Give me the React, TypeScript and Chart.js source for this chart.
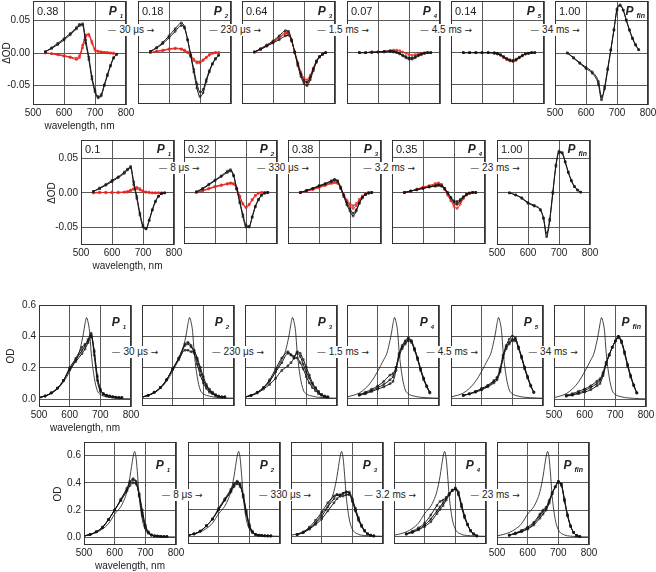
import React, { useEffect, useRef } from 'react';
import { Chart, registerables } from 'chart.js';
Chart.register(...registerables);

const FONT = '"Liberation Sans", Arial, Helvetica, sans-serif';
Chart.defaults.font.family = FONT;
Chart.defaults.font.size = 10;
Chart.defaults.color = '#222';

// ---------------- DATA ----------------
const X_TICKS = [500, 600, 700, 800];
const Y_TICKS_D = [-0.05, 0, 0.05];
const Y_TICKS_OD = [0, 0.2, 0.4, 0.6];

const WL_D = [540, 560, 580, 600, 620, 640, 650, 660, 670, 680, 690, 700, 710, 720, 730, 740, 750, 760, 770];
const WL_OD = [500, 520, 540, 560, 580, 600, 620, 640, 650, 660, 670, 680, 690, 700, 710, 720, 730, 740, 750, 760, 770];
const WL_REF3 = [500, 520, 540, 560, 580, 600, 620, 630, 640, 645, 650, 655, 660, 665, 670, 680, 690, 700, 720, 740, 760, 780, 800];
const REF3 = [0.01, 0.02, 0.035, 0.065, 0.11, 0.175, 0.25, 0.29, 0.37, 0.42, 0.48, 0.52, 0.49, 0.43, 0.3, 0.14, 0.055, 0.03, 0.015, 0.008, 0.005, 0.003, 0.002];
const WL_REF4 = [500, 520, 540, 560, 580, 600, 620, 630, 640, 650, 655, 660, 665, 670, 675, 680, 690, 700, 720, 740, 760, 780, 800];
const REF4 = [0.01, 0.02, 0.035, 0.06, 0.1, 0.17, 0.225, 0.27, 0.335, 0.445, 0.52, 0.59, 0.63, 0.58, 0.45, 0.3, 0.13, 0.055, 0.017, 0.008, 0.005, 0.003, 0.002];

// Row 1 (ΔOD)
const R1P1_K1 = [0.002, 0.008, 0.015, 0.022, 0.03, 0.039, 0.044, 0.043, 0.015, -0.01, -0.04, -0.06, -0.069, -0.066, -0.05, -0.035, -0.02, -0.008, -0.002];
const R1P1_K2 = [0.002, 0.007, 0.013, 0.02, 0.028, 0.037, 0.042, 0.045, 0.02, -0.006, -0.036, -0.057, -0.067, -0.064, -0.049, -0.033, -0.019, -0.007, -0.002];
const R1P1_R1 = [0, -0.001, -0.003, -0.005, -0.007, -0.01, -0.007, 0.008, 0.025, 0.029, 0.018, 0.006, 0.003, 0.002, 0.001, 0.001, 0, -0.001, null];
const R1P1_R2 = [0, -0.001, -0.002, -0.004, -0.006, -0.008, -0.004, 0.012, 0.028, 0.027, 0.015, 0.004, 0.002, 0.001, 0.001, 0, 0, 0, null];
const R1P2_K1 = [0.002, 0.008, 0.016, 0.026, 0.037, 0.046, 0.04, 0.02, -0.005, -0.03, -0.055, -0.068, -0.062, -0.045, -0.03, -0.018, -0.01, -0.004, null];
const R1P2_K2 = [0.002, 0.007, 0.014, 0.023, 0.033, 0.042, 0.038, 0.02, -0.003, -0.026, -0.048, -0.061, -0.057, -0.042, -0.028, -0.017, -0.009, -0.004, null];
const R1P2_R1 = [0, 0.002, 0.004, 0.006, 0.007, 0.006, 0.004, 0.001, -0.004, -0.01, -0.014, -0.014, -0.011, -0.007, -0.003, -0.001, 0, 0, null];
const R1P2_R2 = [0, 0.002, 0.003, 0.005, 0.006, 0.005, 0.003, 0, -0.006, -0.012, -0.016, -0.016, -0.012, -0.008, -0.004, -0.001, 0, 0, null];
const R1P3_K1 = [0.001, 0.006, 0.012, 0.018, 0.026, 0.034, 0.033, 0.02, 0, -0.02, -0.037, -0.048, -0.051, -0.042, -0.028, -0.015, -0.007, -0.003, 0];
const R1P3_K2 = [0.001, 0.005, 0.01, 0.015, 0.02, 0.026, 0.027, 0.018, 0.001, -0.017, -0.033, -0.043, -0.046, -0.038, -0.025, -0.013, -0.006, -0.002, 0];
const R1P3_R1 = [0.001, 0.006, 0.011, 0.017, 0.024, 0.031, 0.031, 0.019, 0.001, -0.018, -0.034, -0.044, -0.046, -0.039, -0.026, -0.014, -0.006, -0.002, 0];
const R1P3_R2 = [0.001, 0.005, 0.011, 0.016, 0.023, 0.029, 0.03, 0.019, 0.002, -0.015, -0.03, -0.039, -0.042, -0.035, -0.024, -0.013, -0.006, -0.002, 0];
const R1P4_K1 = [0, 0, 0, 0.001, 0.001, 0.002, 0.001, 0, -0.002, -0.005, -0.008, -0.01, -0.01, -0.008, -0.005, -0.003, -0.001, 0, 0];
const R1P4_K2 = [0, 0, 0.001, 0.001, 0.002, 0.003, 0.002, 0.001, -0.001, -0.004, -0.006, -0.008, -0.008, -0.006, -0.004, -0.002, -0.001, 0, 0];
const R1P4_R1 = [0, 0, 0.001, 0.001, 0.002, 0.003, 0.004, 0.004, 0.003, 0.001, -0.001, -0.003, -0.004, -0.003, -0.002, -0.001, 0, 0, 0];
const R1P5_K1 = [0, 0, 0, 0, 0, 0, -0.001, -0.003, -0.006, -0.009, -0.011, -0.012, -0.01, -0.007, -0.004, -0.002, -0.001, 0, 0];
const R1P5_K2 = [0, 0, 0, 0, 0, -0.001, -0.002, -0.004, -0.007, -0.01, -0.012, -0.013, -0.011, -0.008, -0.005, -0.002, -0.001, 0, 0];
const R1P5_R1 = [0, 0, 0, 0, 0, -0.001, -0.002, -0.004, -0.008, -0.011, -0.013, -0.014, -0.012, -0.008, -0.005, -0.002, -0.001, 0, 0];
const R1P6_K1 = [0, -0.008, -0.016, -0.024, -0.031, -0.048, -0.072, -0.052, -0.024, 0.005, 0.035, 0.068, 0.074, 0.066, 0.051, 0.036, 0.023, 0.013, 0.005];
const R1P6_K2 = [0, -0.007, -0.015, -0.022, -0.029, -0.044, -0.067, -0.055, -0.026, 0.004, 0.036, 0.066, 0.073, 0.066, 0.05, 0.035, 0.022, 0.012, 0.005];

// Row 2 (ΔOD)
const R2P1_K1 = [0.002, 0.007, 0.012, 0.018, 0.023, 0.03, 0.034, 0.036, 0.012, -0.008, -0.032, -0.049, -0.052, -0.04, -0.025, -0.013, -0.005, -0.001, 0];
const R2P1_K2 = [0.002, 0.006, 0.011, 0.016, 0.022, 0.028, 0.033, 0.038, 0.016, -0.005, -0.029, -0.047, -0.051, -0.039, -0.024, -0.012, -0.005, -0.001, 0];
const R2P1_R1 = [0, 0, 0.001, 0, 0.001, 0.001, 0.002, 0.004, 0.006, 0.006, 0.004, 0.002, 0.001, 0, 0, 0, 0, 0, null];
const R2P1_R2 = [0, 0.001, 0, 0.001, 0, 0.001, 0.001, 0.003, 0.005, 0.008, 0.006, 0.003, 0.001, 0.001, 0, 0, 0, 0, null];
const R2P2_K1 = [0.001, 0.006, 0.012, 0.018, 0.024, 0.031, 0.033, 0.025, 0.005, -0.015, -0.035, -0.05, -0.05, -0.035, -0.02, -0.01, -0.004, -0.001, 0];
const R2P2_K2 = [0.001, 0.005, 0.011, 0.017, 0.023, 0.029, 0.031, 0.024, 0.006, -0.013, -0.032, -0.047, -0.049, -0.036, -0.021, -0.011, -0.004, -0.001, 0];
const R2P2_R1 = [0, 0.003, 0.006, 0.009, 0.011, 0.013, 0.014, 0.013, 0.006, -0.005, -0.016, -0.021, -0.017, -0.01, -0.004, -0.001, 0, 0, 0];
const R2P2_R2 = [0, 0.002, 0.005, 0.008, 0.01, 0.012, 0.013, 0.012, 0.005, -0.006, -0.017, -0.022, -0.018, -0.011, -0.005, -0.001, 0, 0, 0];
const R2P3_K1 = [0, 0.003, 0.006, 0.009, 0.012, 0.016, 0.018, 0.016, 0.006, -0.006, -0.018, -0.027, -0.034, -0.027, -0.016, -0.008, -0.003, -0.001, 0];
const R2P3_K2 = [0, 0.003, 0.006, 0.01, 0.013, 0.017, 0.019, 0.017, 0.008, -0.004, -0.015, -0.024, -0.03, -0.025, -0.015, -0.007, -0.003, -0.001, 0];
const R2P3_R1 = [0, 0.002, 0.005, 0.008, 0.011, 0.014, 0.015, 0.014, 0.006, -0.004, -0.013, -0.019, -0.023, -0.019, -0.012, -0.006, -0.002, 0, 0];
const R2P3_R2 = [0, 0.002, 0.004, 0.007, 0.01, 0.013, 0.014, 0.013, 0.006, -0.003, -0.011, -0.016, -0.019, -0.016, -0.01, -0.005, -0.002, 0, 0];
const R2P4_K1 = [0, 0.002, 0.004, 0.006, 0.008, 0.01, 0.011, 0.01, 0.006, 0, -0.007, -0.012, -0.013, -0.01, -0.006, -0.003, -0.001, 0, 0];
const R2P4_K2 = [0, 0.002, 0.004, 0.006, 0.008, 0.009, 0.01, 0.009, 0.005, -0.001, -0.008, -0.014, -0.016, -0.012, -0.007, -0.003, -0.001, 0, 0];
const R2P4_R1 = [0, 0.002, 0.005, 0.008, 0.01, 0.013, 0.014, 0.012, 0.006, -0.003, -0.012, -0.02, -0.023, -0.017, -0.009, -0.004, -0.001, 0, 0];
const R2P4_R2 = [0, 0.002, 0.004, 0.007, 0.009, 0.011, 0.012, 0.01, 0.004, -0.004, -0.011, -0.016, -0.018, -0.014, -0.008, -0.003, -0.001, 0, 0];
const R2P5_K1 = [0, -0.003, -0.008, -0.015, -0.019, -0.025, -0.037, -0.063, -0.04, -0.001, 0.038, 0.058, 0.058, 0.045, 0.03, 0.018, 0.009, 0.004, 0.001];
const R2P5_K2 = [0, -0.003, -0.007, -0.014, -0.018, -0.024, -0.036, -0.058, -0.038, 0.001, 0.04, 0.06, 0.057, 0.044, 0.029, 0.017, 0.009, 0.004, 0.001];

// Row 3 (OD)
const R3P1_K1 = [0.01, 0.02, 0.04, 0.07, 0.12, 0.19, 0.25, 0.31, 0.34, 0.38, 0.42, 0.3, 0.14, 0.06, 0.035, 0.025, 0.02, 0.015, 0.012, 0.01, 0.01];
const R3P1_K2 = [0.01, 0.02, 0.04, 0.07, 0.12, 0.19, 0.24, 0.29, 0.32, 0.36, 0.4, 0.31, 0.15, 0.065, 0.035, 0.025, 0.02, 0.015, 0.012, 0.01, 0.01];
const R3P1_K3 = [0.01, 0.02, 0.04, 0.07, 0.12, 0.2, 0.26, 0.33, 0.35, 0.37, 0.41, 0.28, 0.12, 0.05, 0.03, 0.02, 0.018, 0.015, 0.012, 0.01, 0.01];
const R3P2_K1 = [0.01, 0.02, 0.04, 0.07, 0.12, 0.19, 0.26, 0.34, 0.35, 0.33, 0.31, 0.25, 0.18, 0.12, 0.08, 0.05, 0.035, 0.02, 0.015, 0.01, 0.01];
const R3P2_K2 = [0.01, 0.02, 0.04, 0.07, 0.12, 0.19, 0.25, 0.31, 0.31, 0.3, 0.3, 0.26, 0.2, 0.14, 0.09, 0.06, 0.04, 0.025, 0.015, 0.01, 0.01];
const R3P2_K3 = [0.01, 0.02, 0.04, 0.07, 0.12, 0.19, 0.26, 0.35, 0.36, 0.34, 0.29, 0.22, 0.15, 0.1, 0.065, 0.04, 0.03, 0.02, 0.012, 0.01, 0.01];
const R3P3_K1 = [0.01, 0.02, 0.04, 0.07, 0.11, 0.17, 0.23, 0.29, 0.28, 0.27, 0.29, 0.27, 0.22, 0.17, 0.13, 0.09, 0.065, 0.04, 0.025, 0.015, 0.01];
const R3P3_K2 = [0.01, 0.02, 0.035, 0.06, 0.09, 0.13, 0.18, 0.21, 0.23, 0.26, 0.3, 0.29, 0.25, 0.2, 0.15, 0.1, 0.07, 0.045, 0.025, 0.015, 0.01];
const R3P3_K3 = [0.01, 0.02, 0.04, 0.07, 0.12, 0.19, 0.26, 0.3, 0.28, 0.26, 0.26, 0.23, 0.19, 0.14, 0.1, 0.07, 0.05, 0.03, 0.02, 0.012, 0.01];
const R3P4_K1 = [null, null, 0.025, 0.035, 0.05, 0.07, 0.09, 0.12, 0.14, 0.2, 0.28, 0.33, 0.36, 0.38, 0.37, 0.32, 0.26, 0.19, 0.13, 0.08, 0.04];
const R3P4_K2 = [null, null, 0.02, 0.03, 0.045, 0.06, 0.075, 0.095, 0.11, 0.18, 0.27, 0.32, 0.35, 0.37, 0.36, 0.31, 0.25, 0.18, 0.12, 0.075, 0.035];
const R3P4_K3 = [null, null, 0.025, 0.04, 0.06, 0.08, 0.11, 0.15, 0.16, 0.2, 0.29, 0.34, 0.37, 0.39, 0.37, 0.32, 0.26, 0.19, 0.13, 0.08, 0.04];
const R3P5_K1 = [null, null, 0.02, 0.03, 0.045, 0.06, 0.08, 0.11, 0.13, 0.18, 0.27, 0.33, 0.36, 0.38, 0.38, 0.33, 0.27, 0.2, 0.14, 0.08, 0.04];
const R3P5_K2 = [null, null, 0.02, 0.03, 0.04, 0.055, 0.075, 0.1, 0.12, 0.17, 0.26, 0.32, 0.35, 0.37, 0.37, 0.32, 0.26, 0.19, 0.13, 0.08, 0.04];
const R3P5_K3 = [null, null, 0.02, 0.03, 0.045, 0.065, 0.085, 0.115, 0.135, 0.19, 0.28, 0.34, 0.38, 0.4, 0.39, 0.33, 0.27, 0.2, 0.14, 0.085, 0.04];
const R3P6_K1 = [null, null, 0.02, 0.03, 0.04, 0.055, 0.075, 0.1, 0.12, 0.16, 0.23, 0.28, 0.33, 0.37, 0.4, 0.37, 0.3, 0.22, 0.15, 0.09, 0.04];
const R3P6_K2 = [null, null, 0.02, 0.025, 0.035, 0.045, 0.06, 0.085, 0.1, 0.15, 0.22, 0.28, 0.33, 0.37, 0.39, 0.36, 0.29, 0.21, 0.14, 0.085, 0.04];
const R3P6_K3 = [null, null, 0.025, 0.035, 0.05, 0.065, 0.085, 0.115, 0.13, 0.17, 0.235, 0.285, 0.33, 0.37, 0.4, 0.37, 0.3, 0.22, 0.15, 0.09, 0.04];

// Row 4 (OD)
const R4P1_K1 = [0.01, 0.02, 0.04, 0.07, 0.13, 0.2, 0.27, 0.35, 0.4, 0.42, 0.4, 0.31, 0.18, 0.08, 0.035, 0.015, 0.01, 0.008, 0.006, 0.005, 0.005];
const R4P1_K2 = [0.01, 0.02, 0.04, 0.07, 0.13, 0.2, 0.27, 0.34, 0.38, 0.4, 0.39, 0.32, 0.2, 0.09, 0.04, 0.018, 0.01, 0.008, 0.006, 0.005, 0.005];
const R4P1_K3 = [0.01, 0.02, 0.04, 0.075, 0.13, 0.2, 0.28, 0.36, 0.41, 0.43, 0.41, 0.3, 0.16, 0.07, 0.03, 0.015, 0.01, 0.008, 0.006, 0.005, 0.005];
const R4P2_K1 = [0.01, 0.02, 0.04, 0.08, 0.13, 0.2, 0.27, 0.34, 0.38, 0.4, 0.38, 0.3, 0.18, 0.08, 0.035, 0.015, 0.01, 0.008, 0.006, 0.005, 0.005];
const R4P2_K2 = [0.01, 0.02, 0.04, 0.08, 0.13, 0.2, 0.27, 0.33, 0.37, 0.39, 0.37, 0.31, 0.19, 0.09, 0.04, 0.018, 0.01, 0.008, 0.006, 0.005, 0.005];
const R4P2_K3 = [0.01, 0.02, 0.04, 0.08, 0.13, 0.21, 0.28, 0.35, 0.39, 0.41, 0.39, 0.29, 0.17, 0.075, 0.03, 0.015, 0.01, 0.008, 0.006, 0.005, 0.005];
const R4P3_K1 = [null, 0.015, 0.03, 0.06, 0.1, 0.15, 0.22, 0.28, 0.31, 0.31, 0.32, 0.33, 0.32, 0.27, 0.2, 0.13, 0.08, 0.045, 0.02, 0.01, 0.005];
const R4P3_K2 = [null, 0.015, 0.035, 0.07, 0.12, 0.18, 0.25, 0.3, 0.31, 0.3, 0.3, 0.31, 0.31, 0.26, 0.19, 0.12, 0.075, 0.04, 0.02, 0.01, 0.005];
const R4P3_K3 = [null, 0.015, 0.03, 0.055, 0.09, 0.13, 0.19, 0.25, 0.28, 0.3, 0.32, 0.33, 0.33, 0.28, 0.21, 0.14, 0.085, 0.045, 0.02, 0.01, 0.005];
const R4P4_K1 = [null, null, 0.02, 0.035, 0.055, 0.085, 0.13, 0.19, 0.22, 0.25, 0.28, 0.31, 0.34, 0.355, 0.32, 0.23, 0.15, 0.09, 0.045, 0.02, 0.005];
const R4P4_K2 = [null, null, 0.02, 0.04, 0.065, 0.1, 0.16, 0.23, 0.26, 0.27, 0.29, 0.32, 0.345, 0.35, 0.31, 0.22, 0.14, 0.085, 0.04, 0.018, 0.005];
const R4P4_K3 = [null, null, 0.018, 0.03, 0.05, 0.075, 0.11, 0.17, 0.2, 0.23, 0.27, 0.31, 0.34, 0.36, 0.33, 0.24, 0.155, 0.09, 0.045, 0.02, 0.005];
const R4P5_K1 = [null, null, 0.015, 0.03, 0.045, 0.065, 0.1, 0.16, 0.19, 0.21, 0.26, 0.32, 0.37, 0.41, 0.39, 0.27, 0.16, 0.08, 0.035, 0.012, 0.005];
const R4P5_K2 = [null, null, 0.015, 0.025, 0.04, 0.06, 0.09, 0.14, 0.17, 0.2, 0.25, 0.32, 0.37, 0.4, 0.38, 0.27, 0.16, 0.08, 0.035, 0.012, 0.005];
const R4P5_K3 = [null, null, 0.015, 0.03, 0.05, 0.075, 0.11, 0.17, 0.2, 0.22, 0.27, 0.33, 0.37, 0.41, 0.39, 0.28, 0.165, 0.085, 0.035, 0.012, 0.005];

// Text
const R1_VALUES = ['0.38', '0.18', '0.64', '0.07', '0.14', '1.00'];
const R2_VALUES = ['0.1', '0.32', '0.38', '0.35', '1.00'];
const P_SUB_6 = ['1', '2', '3', '4', '5', 'fin'];
const P_SUB_5 = ['1', '2', '3', '4', 'fin'];
const STEPS_6 = ['30 μs', '230 μs', '1.5 ms', '4.5 ms', '34 ms'];
const STEPS_5 = ['8 μs', '330 μs', '3.2 ms', '23 ms'];

const R1_BLACK = [[R1P1_K1, R1P1_K2], [R1P2_K1, R1P2_K2], [R1P3_K1, R1P3_K2], [R1P4_K1, R1P4_K2], [R1P5_K1, R1P5_K2], [R1P6_K1, R1P6_K2]];
const R1_RED = [[R1P1_R1, R1P1_R2], [R1P2_R1, R1P2_R2], [R1P3_R1, R1P3_R2], [R1P4_R1], [R1P5_R1], []];
const R2_BLACK = [[R2P1_K1, R2P1_K2], [R2P2_K1, R2P2_K2], [R2P3_K1, R2P3_K2], [R2P4_K1, R2P4_K2], [R2P5_K1, R2P5_K2]];
const R2_RED = [[R2P1_R1, R2P1_R2], [R2P2_R1, R2P2_R2], [R2P3_R1, R2P3_R2], [R2P4_R1, R2P4_R2], []];
const R3_BLACK = [[R3P1_K1, R3P1_K2, R3P1_K3], [R3P2_K1, R3P2_K2, R3P2_K3], [R3P3_K1, R3P3_K2, R3P3_K3], [R3P4_K1, R3P4_K2, R3P4_K3], [R3P5_K1, R3P5_K2, R3P5_K3], [R3P6_K1, R3P6_K2, R3P6_K3]];
const R4_BLACK = [[R4P1_K1, R4P1_K2, R4P1_K3], [R4P2_K1, R4P2_K2, R4P2_K3], [R4P3_K1, R4P3_K2, R4P3_K3], [R4P4_K1, R4P4_K2, R4P4_K3], [R4P5_K1, R4P5_K2, R4P5_K3]];

// ---------------- LAYOUT / STYLE ----------------
const RED = '#e3241c';
const BLACK = '#151515';
const GRID = '#5a5a5a';
const BORDER = '#333';
const PAD_L = 14, PAD_R = 14, PAD_T = 8, PAD_B = 4;
const YW = 30, XH = 14;

type Trace = { wl: number[]; y: (number | null)[]; kind: 'k' | 'r' | 'ref' };
type Row = {
  top: number; h: number; w: number; lefts: number[];
  yMin: number; yMax: number; yTicks: number[]; dec: number;
  traces: Trace[][];
  values?: string[]; subs: string[]; steps: string[];
  stepCx: number[]; stepCy: number;
  yTitle: string; titleX: number;
  valDy: number; pDy: number; pPad: number;
};

function mk(black: (number | null)[][][], red: (number | null)[][][] | null, wl: number[], refWl?: number[], ref?: number[]): Trace[][] {
  return black.map((bs, i) => {
    const t: Trace[] = [];
    bs.forEach((y) => t.push({ wl, y, kind: 'k' }));
    if (red) red[i].forEach((y) => t.push({ wl, y, kind: 'r' }));
    if (refWl && ref) t.push({ wl: refWl, y: ref, kind: 'ref' });
    return t;
  });
}

const ROWS: Row[] = [
  {
    top: 1, h: 104, w: 93, lefts: [33, 138, 242, 347, 451, 555],
    yMin: -0.08, yMax: 0.08, yTicks: Y_TICKS_D, dec: 2,
    traces: mk(R1_BLACK, R1_RED, WL_D),
    values: R1_VALUES, subs: P_SUB_6, steps: STEPS_6,
    stepCx: [131, 235, 343, 446, 555], stepCy: 30,
    yTitle: 'ΔOD', titleX: 7, valDy: 10, pDy: 10, pPad: 3,
  },
  {
    top: 140, h: 105, w: 93, lefts: [81, 184, 288, 392, 497],
    yMin: -0.075, yMax: 0.076, yTicks: Y_TICKS_D, dec: 2,
    traces: mk(R2_BLACK, R2_RED, WL_D),
    values: R2_VALUES, subs: P_SUB_5, steps: STEPS_5,
    stepCx: [179, 283, 389, 495], stepCy: 168,
    yTitle: 'ΔOD', titleX: 52, valDy: 9, pDy: 9, pPad: 3,
  },
  {
    top: 305, h: 102, w: 92, lefts: [39, 142, 245, 347, 451, 554],
    yMin: -0.05, yMax: 0.6, yTicks: Y_TICKS_OD, dec: 1,
    traces: mk(R3_BLACK, null, WL_OD, WL_REF3, REF3),
    subs: P_SUB_6, steps: STEPS_6,
    stepCx: [135, 238, 343, 452, 553], stepCy: 352,
    yTitle: 'OD', titleX: 11, valDy: 0, pDy: 17, pPad: 5,
  },
  {
    top: 442, h: 103, w: 92, lefts: [84, 188, 291, 394, 497],
    yMin: -0.057, yMax: 0.7, yTicks: Y_TICKS_OD, dec: 1,
    traces: mk(R4_BLACK, null, WL_OD, WL_REF4, REF4),
    subs: P_SUB_5, steps: STEPS_5,
    stepCx: [182, 285, 390, 495], stepCy: 495,
    yTitle: 'OD', titleX: 58, valDy: 0, pDy: 23, pPad: 6,
  },
];

const boxPlugin = {
  id: 'panelBox',
  afterDatasetsDraw(chart: any) {
    const { ctx, chartArea: a } = chart;
    ctx.save();
    ctx.strokeStyle = BORDER;
    ctx.lineWidth = 1;
    const l = Math.round(a.left) + 0.5, t = Math.round(a.top) + 0.5;
    ctx.strokeRect(l, t, Math.round(a.right) - Math.round(a.left) - 1, Math.round(a.bottom) - Math.round(a.top) - 1);
    ctx.restore();
  },
};

type PanelProps = { row: Row; col: number; hasY: boolean; hasX: boolean };

function Panel({ row, col, hasY, hasX }: PanelProps) {
  const ref = useRef<HTMLCanvasElement>(null);
  const yw = hasY ? YW : 0;
  const xh = hasX ? XH : 0;
  const cw = PAD_L + yw + row.w + PAD_R;
  const ch = PAD_T + row.h + xh + PAD_B;
  const left = row.lefts[col] - PAD_L - yw;
  const top = row.top - PAD_T;

  useEffect(() => {
    const traces = row.traces[col];
    const ordered = [...traces.filter((t) => t.kind === 'k'), ...traces.filter((t) => t.kind === 'r'), ...traces.filter((t) => t.kind === 'ref')];
    const datasets = ordered.map((t) => {
      const c = t.kind === 'r' ? RED : BLACK;
      return {
        data: t.wl.map((x, i) => ({ x, y: t.y[i] })),
        borderColor: c,
        borderWidth: t.kind === 'ref' ? 0.8 : 1,
        pointRadius: t.kind === 'ref' ? 0 : 1.2,
        pointStyle: 'rect',
        pointBorderWidth: 0.7,
        pointBorderColor: c,
        pointBackgroundColor: 'rgba(255,255,255,0)',
        cubicInterpolationMode: 'monotone',
        spanGaps: false,
        fill: false,
      };
    });
    const chart = new Chart(ref.current as HTMLCanvasElement, {
      type: 'line',
      data: { datasets } as any,
      options: {
        animation: false,
        responsive: false,
        maintainAspectRatio: false,
        events: [],
        layout: { padding: { left: PAD_L, right: PAD_R, top: PAD_T, bottom: PAD_B } },
        plugins: { legend: { display: false }, tooltip: { enabled: false } },
        scales: {
          x: {
            type: 'linear', min: 500, max: 800,
            afterBuildTicks: (s: any) => { s.ticks = X_TICKS.map((v) => ({ value: v })); },
            afterFit: (s: any) => { s.height = xh; s.paddingLeft = 0; s.paddingRight = 0; },
            grid: { color: GRID, lineWidth: 1, drawTicks: false },
            border: { display: false },
            ticks: { display: hasX, padding: 2, maxRotation: 0, autoSkip: false, color: '#222', font: { size: 10 }, callback: (v: any) => String(v) },
          },
          y: {
            type: 'linear', min: row.yMin, max: row.yMax,
            afterBuildTicks: (s: any) => { s.ticks = row.yTicks.map((v) => ({ value: v })); },
            afterFit: (s: any) => { s.width = yw; s.paddingTop = 0; s.paddingBottom = 0; },
            grid: { color: GRID, lineWidth: 1, drawTicks: false },
            border: { display: false },
            ticks: { display: hasY, padding: 3, color: '#222', font: { size: 10 }, callback: (v: any) => Number(v).toFixed(row.dec) },
          },
        },
      } as any,
      plugins: [boxPlugin],
    });
    return () => chart.destroy();
  }, []);

  return (
    <canvas
      ref={ref}
      width={cw}
      height={ch}
      style={{ position: 'absolute', left, top, width: cw, height: ch }}
    />
  );
}

const txt = (extra: React.CSSProperties): React.CSSProperties => ({
  position: 'absolute', fontFamily: FONT, color: '#222', whiteSpace: 'nowrap', lineHeight: '1', ...extra,
});

const ARROW_FONT = '"DejaVu Sans", "Liberation Sans", sans-serif';

export default function App() {
  const els: React.ReactNode[] = [];
  ROWS.forEach((row, ri) => {
    const n = row.lefts.length;
    row.lefts.forEach((_lx, ci) => {
      els.push(<Panel key={`p${ri}-${ci}`} row={row} col={ci} hasY={ci === 0} hasX={ci === 0 || ci === n - 1} />);
    });
  });
  const overlays: React.ReactNode[] = [];
  ROWS.forEach((row, ri) => {
    if (row.values) {
      row.values.forEach((v, ci) => {
        overlays.push(
          <div key={`v${ri}-${ci}`} style={txt({ left: row.lefts[ci] + 4, top: row.top + row.valDy, transform: 'translateY(-50%)', fontSize: 11 })}>{v}</div>
        );
      });
    }
    row.subs.forEach((s, ci) => {
      const right = 656 - (row.lefts[ci] + row.w - row.pPad);
      overlays.push(
        <div key={`P${ri}-${ci}`} style={txt({ right, top: row.top + row.pDy, transform: 'translateY(-50%)', fontSize: 12, fontWeight: 'bold', fontStyle: 'italic' })}>
          P<span style={{ fontSize: s === 'fin' ? 7 : 6, position: 'relative', top: 3, marginLeft: 3 }}>{s}</span>
        </div>
      );
    });
    row.steps.forEach((s, si) => {
      overlays.push(
        <div key={`s${ri}-${si}`} style={txt({ left: row.stepCx[si], top: row.stepCy, transform: 'translate(-50%,-50%)', fontSize: 10, background: '#fff', padding: '1px 1px' })}>
          <span style={{ fontFamily: ARROW_FONT, fontSize: 9 }}>{'—'}</span>
          {' ' + s + ' '}
          <span style={{ fontFamily: ARROW_FONT, fontSize: 9, color: '#222' }}>{'\u2192\uFE0E'}</span>
        </div>
      );
    });
    const midY = row.top + row.h / 2;
    overlays.push(
      <div key={`yt${ri}`} style={txt({ left: row.titleX, top: midY, transform: 'translate(-50%,-50%) rotate(-90deg)', fontSize: 10 })}>{row.yTitle}</div>
    );
    overlays.push(
      <div key={`xt${ri}`} style={txt({ left: row.lefts[0] + row.w / 2, top: row.top + row.h + 21, transform: 'translate(-50%,-50%)', fontSize: 10 })}>wavelength, nm</div>
    );
  });

  return (
    <div style={{ position: 'fixed', left: 0, top: 0, width: 656, height: 572, background: '#fff', overflow: 'hidden' }}>
      {els}
      {overlays}
    </div>
  );
}
